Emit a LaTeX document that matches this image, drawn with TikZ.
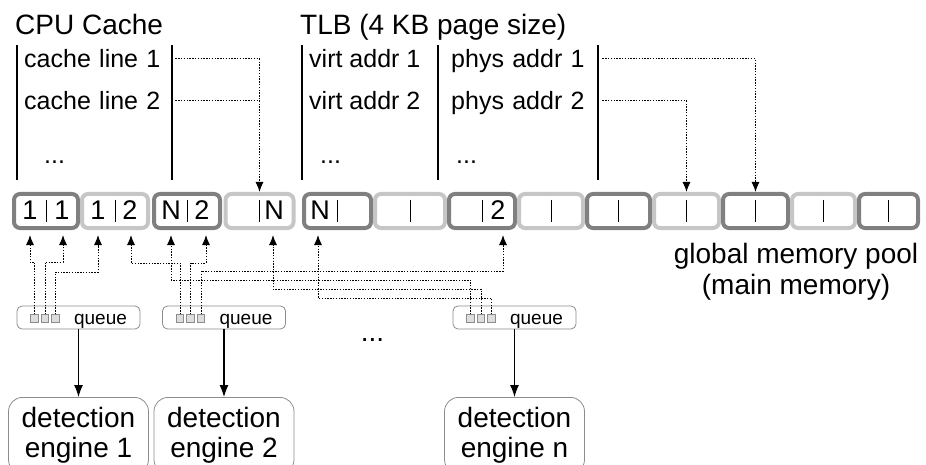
\documentclass[tikz,border=0pt]{standalone}
\usepackage{fontspec}
\setmainfont{Liberation Sans}
\usetikzlibrary{arrows.meta}
\definecolor{darkb}{HTML}{808080}
\definecolor{lightb}{HTML}{C6C6C6}
\definecolor{sqfill}{HTML}{DDDDDD}
\definecolor{boxline}{HTML}{8C8C8C}
\begin{document}
\begin{tikzpicture}[x=1pt,y=-1pt,
  title/.style={font=\fontsize{28}{31}\selectfont, inner sep=0pt, anchor=base west},
  rowtxt/.style={font=\fontsize{25}{28}\selectfont, inner sep=0pt, anchor=base west, text height=18pt, text depth=0pt},
  colw/.style={text width=151pt, align=left},
  vline/.style={line width=2.2pt},
  blkdark/.style={draw=darkb, line width=4pt, rounded corners=6pt, fill=white, minimum height=34pt, inner sep=0pt},
  blklight/.style={blkdark, draw=lightb},
  cell/.style={font=\fontsize{27}{29}\selectfont, inner sep=0pt, anchor=base},
  divider/.style={line width=0.9pt},
  dotc/.style={line width=1pt, dash pattern=on 1.4pt off 1.4pt},
  dotarr/.style={dotc, -{Latex[length=10pt,width=8pt]}},
  solidarr/.style={line width=1.1pt, -{Latex[length=12pt,width=9pt]}},
  queuebox/.style={draw=boxline, line width=0.8pt, rounded corners=5pt, minimum width=123pt, minimum height=23pt, inner sep=0pt},
  sqr/.style={draw=boxline, fill=sqfill, line width=0.6pt, minimum size=7.5pt, inner sep=0pt},
  qtxt/.style={font=\fontsize{19}{21}\selectfont, inner sep=0pt, anchor=base},
  engine/.style={draw=boxline, line width=0.8pt, rounded corners=14pt, minimum width=140pt, inner ysep=10pt, inner xsep=0pt, align=center, font=\fontsize{28}{30}\selectfont, anchor=north},
  big/.style={font=\fontsize{28}{31}\selectfont, inner sep=0pt, anchor=base, align=center}
]
\useasboundingbox (0,0) rectangle (926,465);
\clip (0,0) rectangle (926,465);

% titles
\node[title] (tcache) at (15,35) {CPU Cache};
\node[title] (ttlb) at (300,35) {TLB (4 KB page size)};

% table lines
\draw[vline] (17,45) -- (17,180);
\draw[vline] (172,45) -- (172,180);
\draw[vline] (302,45) -- (302,180);
\draw[vline] (438,45) -- (438,180);
\draw[vline] (598,45) -- (598,180);

% table rows
\node[rowtxt,colw] (c1) at (24,68) {cache line 1};
\node[rowtxt,colw] (c2) at (24,110) {cache line 2};
\node[rowtxt] (c3) at (44,164) {...};
\node[rowtxt] (v1) at (309,68) {virt addr 1};
\node[rowtxt] (v2) at (309,110) {virt addr 2};
\node[rowtxt] (v3) at (320,164) {...};
\node[rowtxt,colw] (p1) at (451,68) {phys addr 1};
\node[rowtxt,colw] (p2) at (451,110) {phys addr 2};
\node[rowtxt] (p3) at (456,164) {...};

% memory blocks
\node[blkdark,  minimum width=64pt] (b1)  at (46,211)    {};
\node[blklight, minimum width=66pt] (b2)  at (115,211)   {};
\node[blkdark,  minimum width=66pt] (b3)  at (187,211)   {};
\node[blklight, minimum width=68pt] (b4)  at (259.5,211) {};
\node[blkdark,  minimum width=67pt] (b5)  at (337.5,211) {};
\node[blklight, minimum width=70pt] (b6)  at (410,211)   {};
\node[blkdark,  minimum width=66pt] (b7)  at (482,211)   {};
\node[blklight, minimum width=64pt] (b8)  at (551,211)   {};
\node[blkdark,  minimum width=63pt] (b9)  at (618.5,211) {};
\node[blklight, minimum width=65pt] (b10) at (686.5,211) {};
\node[blkdark,  minimum width=65pt] (b11) at (755.5,211) {};
\node[blklight, minimum width=63pt] (b12) at (823.5,211) {};
\node[blkdark,  minimum width=59pt] (b13) at (888.5,211) {};
\foreach \b in {b1,b2,b3,b4,b5,b6,b7,b8,b9,b10,b11,b12,b13}
  \draw[divider] ([yshift=11pt]\b.center) -- ([yshift=-11pt]\b.center);

% cell contents
\node[cell] (x1l) at (30,219)    {1};
\node[cell] (x1r) at (62,219)    {1};
\node[cell] (x2l) at (98,219)    {1};
\node[cell] (x2r) at (130,219)   {2};
\node[cell] (x3l) at (171,219)   {N};
\node[cell] (x3r) at (202,219)   {2};
\node[cell] (x4r) at (274,219)   {N};
\node[cell] (x5l) at (320,219)   {N};
\node[cell] (x7r) at (498,219)   {2};

% top connectors
\draw[dotarr] (c1.east) -| (b4.north);
\draw[dotc] (c2.east) -- (c2.east -| b4.north);
\draw[dotarr] (p1.east) -| (b11.north);
\draw[dotarr] (p2.east) -| (b10.north);

% labels
\node[big] (gmp) at (796,294) {global memory pool\\(main memory)};
\node[big] (dots) at (372.5,341) {...};

% queues
\node[queuebox] (q1) at (78.5,317.5) {};
\node[queuebox] (q2) at (224,317.5) {};
\node[queuebox] (qn) at (514.5,317.5) {};
\node[qtxt] (q1t) at (100.5,324) {queue};
\node[qtxt] (q2t) at (246,324) {queue};
\node[qtxt] (qnt) at (536.5,324) {queue};
\node[sqr] (s11) at (34.5,318.5) {};
\node[sqr] (s12) at (45,318.5) {};
\node[sqr] (s13) at (55.5,318.5) {};
\node[sqr] (s21) at (180,318.5) {};
\node[sqr] (s22) at (190.5,318.5) {};
\node[sqr] (s23) at (201,318.5) {};
\node[sqr] (sn1) at (470.5,318.5) {};
\node[sqr] (sn2) at (481,318.5) {};
\node[sqr] (sn3) at (491.5,318.5) {};

% arrow targets under cells
\coordinate (t1l) at (30,235);
\coordinate (t1r) at (63,235);
\coordinate (t2l) at (98,235);
\coordinate (t2r) at (131,235);
\coordinate (t3l) at (171,235);
\coordinate (t3r) at (206,235);
\coordinate (t4r) at (273,235);
\coordinate (t5l) at (318,235);
\coordinate (t7r) at (503,235);
% routing levels
\coordinate (la) at (0,262);
\coordinate (lb) at (0,272);
\coordinate (lc) at (0,263);
\coordinate (ld) at (0,271);
\coordinate (le) at (0,280);
\coordinate (lf) at (0,289);
\coordinate (lg) at (0,298);

\draw[dotarr] (s11.north) -- (s11.north |- la) -| (t1l);
\draw[dotarr] (s12.north) -- (s12.north |- la) -| (t1r);
\draw[dotarr] (s13.north) -- (s13.north |- lb) -| (t2l);
\draw[dotarr] (s21.north) -- (s21.north |- lc) -| (t2r);
\draw[dotarr] (s22.north) -- (s22.north |- lc) -| (t3r);
\draw[dotarr] (s23.north) -- (s23.north |- ld) -| (t7r);
\draw[dotarr] (sn1.north) -- (sn1.north |- le) -| (t3l);
\draw[dotarr] (sn2.north) -- (sn2.north |- lf) -| (t4r);
\draw[dotarr] (sn3.north) -- (sn3.north |- lg) -| (t5l);

% engines
\node[engine] (e1) at (78.5,397) {detection\\engine 1};
\node[engine] (e2) at (224,397) {detection\\engine 2};
\node[engine] (en) at (514.5,397) {detection\\engine n};
\draw[solidarr] (q1.south) -- (e1.north);
\draw[solidarr] (q2.south) -- (e2.north);
\draw[solidarr] (qn.south) -- (en.north);
\end{tikzpicture}
\end{document}
